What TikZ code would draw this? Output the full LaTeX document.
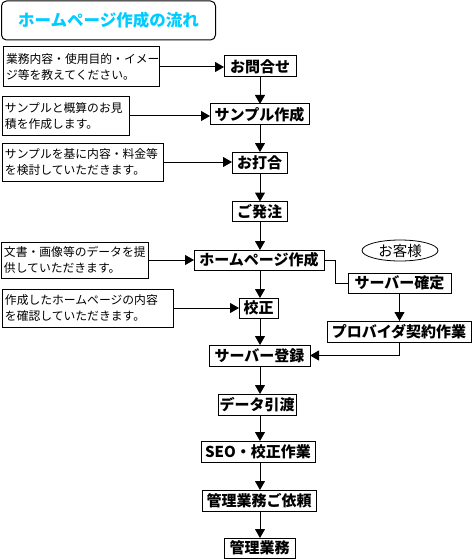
\documentclass[tikz,border=0pt]{standalone}
\usepackage{fontspec}
\setmainfont{Noto Sans CJK JP}
\usetikzlibrary{arrows.meta,shapes.geometric}
\definecolor{titlecyan}{RGB}{0,204,255}
\begin{document}
\begin{tikzpicture}[x=1pt,y=-1pt,
  every node/.style={inner sep=0pt,outer sep=0pt},
  lbox/.style={draw,line width=1pt,align=left,inner xsep=3pt,font=\fontsize{11.8}{16.5}\selectfont},
  fbox/.style={draw,line width=1pt,font=\bfseries\fontsize{15}{15}\selectfont},
  conn/.style={line width=1pt},
  arr/.style={line width=1pt,-{Triangle[width=10pt,length=9pt]}}]
\useasboundingbox (0,0) rectangle (472,559);
\coordinate (X) at (260,0);
% title
\node[draw,line width=1pt,rounded corners=5pt,minimum width=214pt,minimum height=39pt,
  text=titlecyan,font=\bfseries\fontsize{16.5}{16.5}\selectfont] (title) at (108.5,20.5) {ホームページ作成の流れ};
% main flow boxes
\node[fbox,minimum width=72pt,minimum height=21pt] (q1) at (260,66.5) {お問合せ};
\node[fbox,minimum width=99pt,minimum height=21pt] (q2) at (259.5,114.5) {サンプル作成};
\node[fbox,minimum width=55pt,minimum height=21pt] (q3) at (259.5,162.5) {お打合};
\node[fbox,minimum width=55pt,minimum height=20pt] (q4) at (259.5,211.5) {ご発注};
\node[fbox,minimum width=130pt,minimum height=20pt] (q5) at (259,260) {ホームページ作成};
\node[fbox,minimum width=39pt,minimum height=20pt] (q6) at (258.5,308) {校正};
\node[fbox,minimum width=101pt,minimum height=21pt] (q7) at (259.5,355.5) {サーバー登録};
\node[fbox,minimum width=78pt,minimum height=21pt] (q8) at (257,404.5) {データ引渡};
\node[fbox,minimum width=114pt,minimum height=21pt] (q9) at (258,451.5) {SEO・校正作業};
\node[fbox,minimum width=114pt,minimum height=21pt] (q10) at (259,500.5) {管理業務ご依頼};
\node[fbox,minimum width=71pt,minimum height=20pt] (q11) at (259.5,548) {管理業務};
% side boxes
\node[draw,line width=0.8pt,ellipse,minimum width=76pt,minimum height=21pt,
  font=\fontsize{14.5}{14.5}\selectfont] (cust) at (400,250.5) {お客様};
\node[fbox,minimum width=103pt,minimum height=20pt] (s1) at (399.5,283) {サーバー確定};
\node[fbox,minimum width=144pt,minimum height=21pt] (s2) at (399,331.5) {プロバイダ契約作業};
% left comment boxes
\node[lbox,text width=150pt,minimum height=40pt] (L1) at (81,67) {業務内容・使用目的・イメー\\ジ等を教えてください。};
\node[lbox,text width=121pt,minimum height=38pt] (L2) at (65.5,116) {サンプルと概算のお見\\積を作成します。};
\node[lbox,text width=155pt,minimum height=38pt] (L3) at (82.5,162) {サンプルを基に内容・料金等\\を検討していただきます。};
\node[lbox,text width=141pt,minimum height=36pt] (L4) at (74.5,260) {文書・画像等のデータを提\\供していただきます。};
\node[lbox,text width=165pt,minimum height=38pt] (L5) at (87.5,308) {作成したホームページの内容\\を確認していただきます。};
% left arrows
\draw[arr] (L1.east) -- (L1.east -| q1.west);
\draw[arr] (L2.east) -- (L2.east -| q2.west);
\draw[arr] (L3.east) -- (L3.east -| q3.west);
\draw[arr] (L4.east) -- (L4.east -| q5.west);
\draw[arr] (L5.east) -- (L5.east -| q6.west);
% main vertical arrows
\draw[arr] (q1.south -| X) -- (q2.north -| X);
\draw[arr] (q2.south -| X) -- (q3.north -| X);
\draw[arr] (q3.south -| X) -- (q4.north -| X);
\draw[arr] (q4.south -| X) -- (q5.north -| X);
\draw[arr] (q5.south -| X) -- (q6.north -| X);
\draw[arr] (q6.south -| X) -- (q7.north -| X);
\draw[arr] (q7.south -| X) -- (q8.north -| X);
\draw[arr] (q8.south -| X) -- (q9.north -| X);
\draw[arr] (q9.south -| X) -- (q10.north -| X);
\draw[arr] (q10.south -| X) -- (q11.north -| X);
% server branch
\coordinate (bend) at (335,0);
\draw[conn] (q5.east) -- (q5.east -| bend) -- (s1.west -| bend) -- (s1.west);
\draw[arr] (s1.south) -- (s1.south |- s2.north);
\draw[arr] (s2.south) |- (q7.east);
\end{tikzpicture}
\end{document}
